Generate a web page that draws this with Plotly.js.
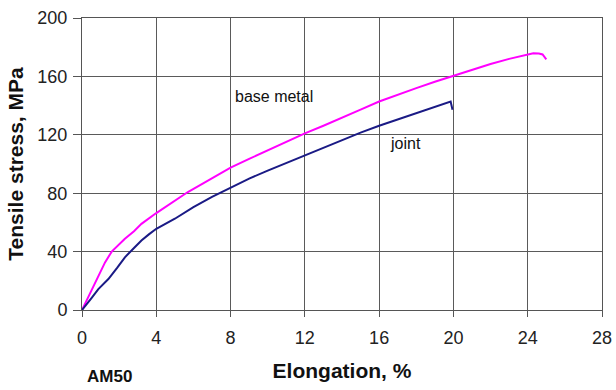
<!DOCTYPE html>
<html>
<head>
<meta charset="utf-8">
<script src="https://cdn.plot.ly/plotly-3.0.1.min.js"></script>
<style>html,body{margin:0;padding:0;background:#fff;}#chart{width:616px;height:390px;}</style>
</head>
<body>
<div id="chart"></div>
<script>
const baseX = [0, 0.34, 0.7, 1.0, 1.24, 1.6, 2.0, 2.31, 2.8, 3.2, 4, 5, 5.7, 6.5, 7, 8, 9, 10, 11, 12, 13, 14, 15, 16, 17, 18, 19, 20, 21, 22, 23, 24, 24.3, 24.6, 24.8, 25.0];
const baseY = [0, 8.7, 17.9, 26, 32.6, 40, 45, 48.8, 54, 59, 66.4, 75, 80.8, 86.5, 90, 97.5, 103.5, 109.5, 115.5, 121, 126.2, 131.5, 137.2, 142.8, 147.5, 152, 156.3, 160.5, 164.5, 168.5, 172, 175.2, 175.8, 175.7, 175, 171.7];
const jointX = [0, 0.2, 0.5, 0.88, 1.42, 1.9, 2.31, 2.8, 3.2, 3.6, 4, 5, 6, 7, 8, 9, 10, 11, 12, 13, 14, 15, 16, 17, 18, 19, 19.7, 19.85, 19.95];
const jointY = [0, 3.5, 8, 14.3, 21.2, 29, 36.1, 42.5, 47.6, 51.8, 55.6, 62.5, 70.5, 77.5, 84, 90, 95.5, 100.8, 105.8, 111, 116.5, 121.5, 126.2, 130.5, 134.8, 139, 142.5, 142.8, 137.2];
const xTicks = [0, 4, 8, 12, 16, 20, 24, 28];
const yTicks = [0, 40, 80, 120, 160, 200];
const labels = [
  {text: 'base metal', x: 8.13, y: 146},
  {text: 'joint', x: 16.48, y: 114}
];

const font = 'Liberation Sans, Arial, sans-serif';
const traces = [
  {x: baseX, y: baseY, mode: 'lines', name: 'base metal', line: {color: '#ff00ff', width: 2}},
  {x: jointX, y: jointY, mode: 'lines', name: 'joint', line: {color: '#1a1a85', width: 2}}
];
const layout = {
  width: 616, height: 390,
  margin: {l: 82, r: 14, t: 18, b: 80},
  paper_bgcolor: '#fff', plot_bgcolor: '#fff',
  showlegend: false,
  font: {family: font, color: '#222'},
  xaxis: {
    range: [0, 28], tickvals: xTicks, ticktext: xTicks.map(String),
    showgrid: true, gridcolor: '#5a5a5a', gridwidth: 1,
    showline: true, linecolor: '#555', linewidth: 1, mirror: true,
    ticks: 'outside', ticklen: 6, tickcolor: '#555', ticklabelstandoff: 5,
    tickfont: {family: font, size: 18, color: '#222'},
    zeroline: false,
    title: {text: '<b>Elongation, %</b>', font: {family: font, size: 21, color: '#111'}, standoff: 16}
  },
  yaxis: {
    range: [0, 200], tickvals: yTicks, ticktext: yTicks.map(String),
    showgrid: true, gridcolor: '#5a5a5a', gridwidth: 1,
    showline: true, linecolor: '#555', linewidth: 1, mirror: true,
    ticks: 'outside', ticklen: 8, tickcolor: '#555', ticklabelstandoff: 2,
    tickfont: {family: font, size: 18, color: '#222'},
    zeroline: false,
    title: {text: '<b>Tensile stress, MPa</b>', font: {family: font, size: 21, color: '#111'}, standoff: 8}
  },
  annotations: labels.map(l => ({
    text: l.text, x: l.x, y: l.y, xref: 'x', yref: 'y', xanchor: 'left', yanchor: 'middle',
    showarrow: false, font: {family: font, size: 16, color: '#111'}
  })).concat([{
    text: '<b>AM50</b>', xref: 'paper', yref: 'paper', x: 0.006, y: -0.266, xanchor: 'left', yanchor: 'bottom',
    showarrow: false, font: {family: font, size: 17, color: '#111'}
  }])
};
Plotly.newPlot('chart', traces, layout, {displayModeBar: false, staticPlot: true});
</script>
</body>
</html>
